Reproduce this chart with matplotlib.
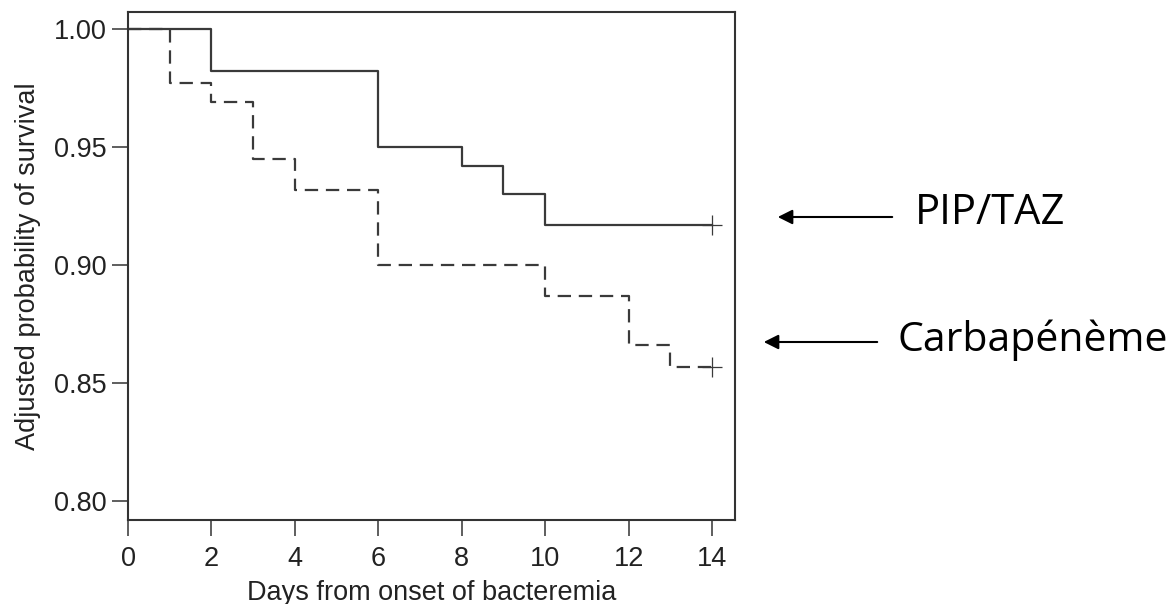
import matplotlib
matplotlib.use("Agg")
import matplotlib.pyplot as plt

# Kaplan-Meier style step data
pip_days = [0, 2, 6, 8, 9, 10, 14]
pip_surv = [1.000, 0.982, 0.950, 0.942, 0.930, 0.917, 0.917]

carba_days = [0, 1, 2, 3, 4, 6, 10, 12, 13, 14]
carba_surv = [1.000, 0.977, 0.969, 0.945, 0.932, 0.900, 0.887, 0.866, 0.857, 0.857]

x_ticks = [0, 2, 4, 6, 8, 10, 12, 14]
y_ticks = [0.80, 0.85, 0.90, 0.95, 1.00]

group_labels = ["PIP/TAZ", "Carbapénème"]

plt.rcParams['font.family'] = ['Liberation Sans', 'DejaVu Sans']

fig = plt.figure(figsize=(11.75, 6.04), dpi=100)
ax = fig.add_axes([128 / 1175, 1 - 520 / 604, (735 - 128) / 1175, (520 - 12) / 604])

line_col = '#3a3a3a'
ax.step(pip_days, pip_surv, where='post', color=line_col, lw=1.6)
ax.step(carba_days, carba_surv, where='post', color=line_col, lw=1.6,
        linestyle=(0, (6, 3.5)))

# censoring marks at the end of follow-up
ax.plot([pip_days[-1], carba_days[-1]], [pip_surv[-1], carba_surv[-1]],
        linestyle='none', marker='+', markersize=15, mew=0.9, color=line_col)

ax.set_xlim(0, 14.55)
ax.set_ylim(0.792, 1.0072)
ax.set_xticks(x_ticks)
ax.set_yticks(y_ticks)
ax.set_yticklabels([f"{v:.2f}" for v in y_ticks])

for s in ax.spines.values():
    s.set_color('#333333')
    s.set_linewidth(1.5)

ax.tick_params(axis='both', direction='out', length=11.5, width=1.1,
               color='#333333', labelsize=19.5, labelcolor='#222222', pad=4)
ax.tick_params(axis='x', pad=7)

ax.set_xlabel('Days from onset of bacteremia', fontsize=19.5, color='#222222', labelpad=6)
ax.set_ylabel('Adjusted probability of survival', fontsize=19.5, color='#222222', labelpad=9)

# group labels with arrows on the right
arrow_kw = dict(arrowstyle='-|>', color='black', lw=1.5, mutation_scale=22)
fig.text(915 / 1175, 1 - 213 / 604, group_labels[0], fontsize=30,
         family=['Open Sans', 'DejaVu Sans'], va='center', ha='left')
fig.text(897 / 1175, 1 - 340 / 604, group_labels[1], fontsize=29.5,
         family=['Open Sans', 'DejaVu Sans'], va='center', ha='left')
fig.add_artist(matplotlib.patches.FancyArrowPatch(
    (895 / 1175, 1 - 217 / 604), (775 / 1175, 1 - 217 / 604),
    transform=fig.transFigure, **arrow_kw))
fig.add_artist(matplotlib.patches.FancyArrowPatch(
    (880 / 1175, 1 - 342 / 604), (761 / 1175, 1 - 342 / 604),
    transform=fig.transFigure, **arrow_kw))

fig.savefig('out.png', dpi=100)
